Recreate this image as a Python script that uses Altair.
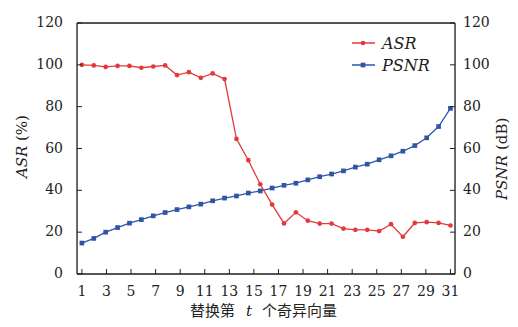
import altair as alt
import pandas as pd
import numpy as np

# 32 samples spread over the labelled range 1..31
t_pos = list(np.linspace(1, 31, 32))
asr = [100, 99.7, 99.0, 99.5, 99.5, 98.6, 99.2, 99.7, 95.1, 96.5, 93.8, 95.9,
       93.2, 64.6, 54.4, 42.9, 33.2, 24.2, 29.5, 25.5, 24.1, 24.1, 21.7, 21.1,
       21.1, 20.5, 23.8, 17.8, 24.4, 24.8, 24.4, 23.2]
psnr = [14.8, 17.0, 20.0, 22.2, 24.3, 26.0, 27.8, 29.4, 30.8, 32.1, 33.4, 35.0,
        36.3, 37.3, 38.7, 39.7, 41.1, 42.4, 43.4, 45.0, 46.5, 47.8, 49.3, 51.1,
        52.5, 54.6, 56.5, 58.7, 61.4, 65.1, 70.5, 79.2]
x_ticks = list(range(1, 32, 2))
y_ticks = [0, 20, 40, 60, 80, 100, 120]

RED = "#e23a3c"
BLUE = "#2f56a6"
SERIF = "DejaVu Serif"
CJK = "Noto Sans CJK SC"
W, H = 378, 251
TXT = "#222"
LBL = 14

df = pd.DataFrame({"t": t_pos, "ASR": asr, "PSNR": psnr})
xs = alt.Scale(domain=[0.6, 31.37], nice=False, zero=False)
ys = alt.Scale(domain=[0, 120], nice=False)
X = lambda f: alt.X(f, scale=xs, axis=None)
Y = lambda f: alt.Y(f, scale=ys, axis=None)

asr_line = alt.Chart(df).mark_line(color=RED, strokeWidth=1.3).encode(x=X("t:Q"), y=Y("ASR:Q"))
asr_pts = alt.Chart(df).mark_point(color=RED, filled=True, shape="circle", size=22, opacity=1).encode(
    x=X("t:Q"), y=Y("ASR:Q"))
psnr_line = alt.Chart(df).mark_line(color=BLUE, strokeWidth=1.3).encode(x=X("t:Q"), y=Y("PSNR:Q"))
psnr_pts = alt.Chart(df).mark_point(color=BLUE, filled=True, shape="square", size=22, opacity=1).encode(
    x=X("t:Q"), y=Y("PSNR:Q"))

one = pd.DataFrame({"a": [0]})
# frame
def rule(x1, x2, y1, y2):
    return alt.Chart(one).mark_rule(color=TXT, strokeWidth=1.3).encode(
        x=alt.value(x1), x2=alt.value(x2), y=alt.value(y1), y2=alt.value(y2))
frame = [rule(0, 0, 0, H), rule(W, W, 0, H), rule(0, W, 0, 0), rule(0, W, H, H)]

# inward tick marks and labels
xt = pd.DataFrame({"t": x_ticks})
yt = pd.DataFrame({"v": y_ticks})
xtick = alt.Chart(xt).mark_rule(color=TXT, strokeWidth=1).encode(
    x=X("t:Q"), y=alt.value(H), y2=alt.value(H - 5))
yltick = alt.Chart(yt).mark_rule(color=TXT, strokeWidth=1).encode(
    y=Y("v:Q"), x=alt.value(0), x2=alt.value(5))
yrtick = alt.Chart(yt).mark_rule(color=TXT, strokeWidth=1).encode(
    y=Y("v:Q"), x=alt.value(W - 5), x2=alt.value(W))
xlab = alt.Chart(xt).mark_text(font=SERIF, fontSize=LBL, color=TXT, align="center",
                               baseline="middle").encode(x=X("t:Q"), y=alt.value(269), text="t:Q")
yllab = alt.Chart(yt).mark_text(font=SERIF, fontSize=LBL, color=TXT, align="right",
                                baseline="middle").encode(y=Y("v:Q"), x=alt.value(-14), text="v:Q")
yrlab = alt.Chart(yt).mark_text(font=SERIF, fontSize=LBL, color=TXT, align="left",
                                baseline="middle").encode(y=Y("v:Q"), x=alt.value(W + 8), text="v:Q")

# legend
leg_r_line = alt.Chart(one).mark_rule(color=RED, strokeWidth=1.5).encode(
    x=alt.value(275), x2=alt.value(298), y=alt.value(20))
leg_r_pt = alt.Chart(one).mark_point(color=RED, filled=True, shape="circle", size=22, opacity=1).encode(
    x=alt.value(286), y=alt.value(20))
leg_r_txt = alt.Chart(one).mark_text(text="ASR", font=SERIF, fontStyle="italic", fontSize=16,
    align="left", baseline="middle", color=TXT).encode(x=alt.value(305), y=alt.value(20.5))
leg_b_line = alt.Chart(one).mark_rule(color=BLUE, strokeWidth=1.5).encode(
    x=alt.value(275), x2=alt.value(298), y=alt.value(42))
leg_b_pt = alt.Chart(one).mark_point(color=BLUE, filled=True, shape="square", size=22, opacity=1).encode(
    x=alt.value(286), y=alt.value(42))
leg_b_txt = alt.Chart(one).mark_text(text="PSNR", font=SERIF, fontStyle="italic", fontSize=16,
    align="left", baseline="middle", color=TXT).encode(x=alt.value(305), y=alt.value(42.5))

# axis titles (mixed italic / upright)
lt1 = alt.Chart(one).mark_text(text="ASR", font=SERIF, fontStyle="italic", fontSize=15,
    angle=270, align="left", baseline="middle", color=TXT).encode(
    x=alt.value(-55), y=alt.value(155))
lt2 = alt.Chart(one).mark_text(text="(%)", font=SERIF, fontSize=15,
    angle=270, align="left", baseline="middle", color=TXT).encode(
    x=alt.value(-55), y=alt.value(118))
rt1 = alt.Chart(one).mark_text(text="PSNR", font=SERIF, fontStyle="italic", fontSize=15,
    angle=270, align="left", baseline="middle", color=TXT).encode(
    x=alt.value(W + 47), y=alt.value(177))
rt2 = alt.Chart(one).mark_text(text="(dB)", font=SERIF, fontSize=15,
    angle=270, align="left", baseline="middle", color=TXT).encode(
    x=alt.value(W + 47), y=alt.value(127))
bt1 = alt.Chart(one).mark_text(text="替换第", font=CJK, fontSize=15,
    align="right", baseline="middle", color=TXT).encode(x=alt.value(158), y=alt.value(288))
bt2 = alt.Chart(one).mark_text(text="t", font=SERIF, fontStyle="italic", fontSize=15,
    align="center", baseline="middle", color=TXT).encode(x=alt.value(172), y=alt.value(288))
bt3 = alt.Chart(one).mark_text(text="个奇异向量", font=CJK, fontSize=15,
    align="left", baseline="middle", color=TXT).encode(x=alt.value(185), y=alt.value(288))

chart = alt.layer(
    psnr_line, asr_line, asr_pts, psnr_pts, *frame,
    xtick, yltick, yrtick, xlab, yllab, yrlab,
    leg_r_line, leg_r_pt, leg_r_txt, leg_b_line, leg_b_pt, leg_b_txt,
    lt1, lt2, rt1, rt2, bt1, bt2, bt3,
).properties(
    width=W, height=H,
    autosize=alt.AutoSizeParams(type="none"),
    padding={"left": 69, "top": 15, "right": 55, "bottom": 45},
).configure_view(strokeWidth=0).configure(background="white")

chart.save("out.html", embed_options={"renderer": "svg", "actions": False})
